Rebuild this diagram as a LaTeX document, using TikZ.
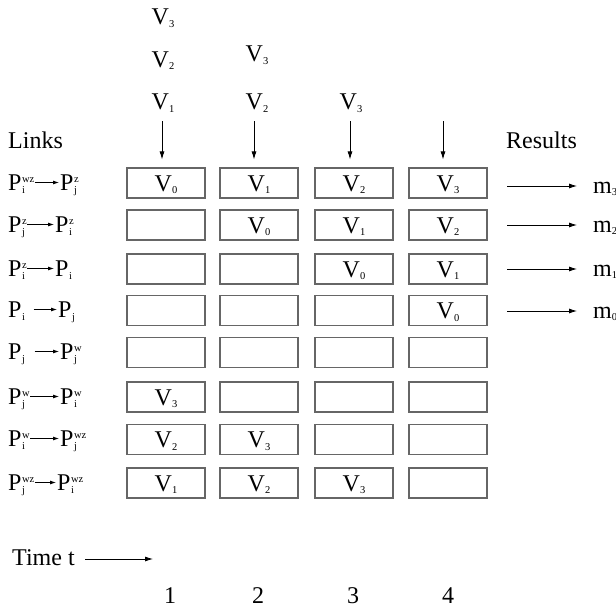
\documentclass[tikz,border=0pt]{standalone}
\usepackage{fontspec}
\setmainfont{Liberation Serif}
\usetikzlibrary{arrows.meta,calc}
\newcommand\scr{\fontsize{10.5}{10.5}\selectfont}
\newcommand\Sb[1]{\raisebox{-2.5pt}{\scr #1}}
\newcommand\PP[2]{P\kern0.5pt\ooalign{\raisebox{-3.5pt}{\scr #1}\cr\raisebox{8pt}{\scr #2}\cr}}
\newcommand\Vc[1]{\if-#1\else V\Sb{#1}\fi}
\begin{document}
\begin{tikzpicture}[x=1pt,y=-1pt,font=\fontsize{24}{28}\selectfont,
  cell/.style={draw=black!60,line width=1.1pt,minimum width=78pt,minimum height=30pt,inner sep=0pt,text height=16pt,text depth=0pt},
  lbl/.style={anchor=base west,inner sep=0pt},
  lab/.style={anchor=base,inner sep=0pt},
  arr/.style={-{Latex[length=8pt,width=5pt]},line width=0.8pt},
  sarr/.style={-{Latex[length=6pt,width=4pt]},line width=0.8pt}]
\useasboundingbox[fill=white] (0,0) rectangle (616,610);

% grid of cells
\foreach \r/\y/\a/\b/\c/\d in {1/183/0/1/2/3, 2/225/-/0/1/2, 3/269/-/-/0/1, 4/310.5/-/-/-/0,
  5/352.5/-/-/-/-, 6/397/3/-/-/-, 7/439.5/2/3/-/-, 8/483/1/2/3/-}{
  \node[cell] (c\r1) at (166,\y) {\Vc{\a}};
  \node[cell] (c\r2) at (259,\y) {\Vc{\b}};
  \node[cell] (c\r3) at (354,\y) {\Vc{\c}};
  \node[cell] (c\r4) at (448,\y) {\Vc{\d}};
}

% incoming values
\node[lab] (t13) at (163,25) {V\Sb{3}};
\node[lab] (t12) at (163,67) {V\Sb{2}};
\node[lab] (t11) at (163,110) {V\Sb{1}};
\node[lab] (t23) at (257,62) {V\Sb{3}};
\node[lab] (t22) at (257,110) {V\Sb{2}};
\node[lab] (t33) at (351,110) {V\Sb{3}};

\coordinate (s1) at (162,121);
\coordinate (s2) at (254,121);
\coordinate (s3) at (350,121);
\coordinate (s4) at (443,121);
\foreach \i in {1,2,3,4}{
  \draw[arr,shorten >=8pt] (s\i) -- (s\i |- c1\i.north);
}

% headings
\node[lbl] (links) at (8,148) {Links};
\node[lbl] (results) at (506,148) {Results};

% results
\foreach \r/\m/\y in {1/3/186, 2/2/225, 3/1/269, 4/0/311}{
  \coordinate (ra\r) at (507,\y);
  \node[lbl] (m\r) at (593,\y+7) {m\Sb{\m}};
  \draw[arr,shorten >=16pt] (ra\r) -- (ra\r -| m\r.west);
}

% link labels
\foreach \r/\y/\la/\lb/\xb/\ra/\rb in {
  1/190/i/wz/60/j/z,
  2/232/j/z/55/i/z,
  3/276/i/z/55/i/,
  4/317/i\hspace{8pt}/ /58/j/,
  5/359/j\hspace{9pt}/ /60/j/w,
  6/404/j/w/60/i/w,
  7/446/i/w/60/j/wz,
  8/490/j/wz/57/i/wz}{
  \node[lbl] (la\r) at (8,\y) {\PP{\la}{\lb}};
  \node[lbl] (lb\r) at (\xb,\y) {\PP{\ra}{\rb}};
  \draw[sarr] ([xshift=0.5pt,yshift=7.5pt]la\r.base east) -- ([xshift=-1pt,yshift=7.5pt]lb\r.base west);
}

% time axis
\node[lbl] (time) at (12,565) {Time t};
\coordinate (ta) at (85,559);
\draw[arr] (ta) -- (153,559);
\node[lab] (n1) at (170,603) {1};
\node[lab] (n2) at (258,603) {2};
\node[lab] (n3) at (353,603) {3};
\node[lab] (n4) at (448,603) {4};
\end{tikzpicture}
\end{document}
